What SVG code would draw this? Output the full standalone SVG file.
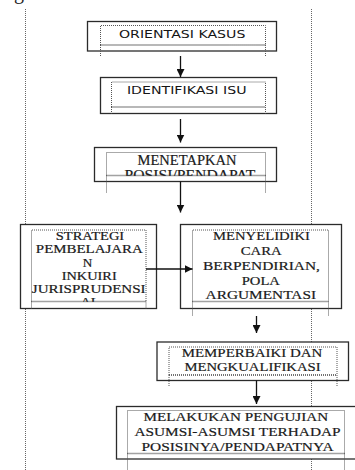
<svg xmlns="http://www.w3.org/2000/svg" width="355" height="470" viewBox="0 0 355 470">
<style>
.bg{fill:#ffffff}
.outer{fill:#ffffff;stroke:#2b2b2b;stroke-width:1.3}
.inner{fill:none;stroke:#555555;stroke-width:1;stroke-dasharray:1 1}
.ext{fill:none;stroke:#555555;stroke-width:1;stroke-dasharray:1 1}
.bot{stroke:#444444;stroke-width:1.6;stroke-dasharray:1 1}
.guide{stroke:#666666;stroke-width:1;stroke-dasharray:1 1;fill:none}
.sans{font-family:"DejaVu Sans","Liberation Sans",sans-serif;font-size:11px;fill:#151515;text-anchor:middle}
.serif{font-family:"Liberation Serif","Times New Roman",serif;fill:#1a1a1a;stroke:#1a1a1a;stroke-width:0.2;text-anchor:middle}
.conn{stroke:#111111;stroke-width:1.3;fill:none}
</style>
<defs>
<marker id="ah" markerUnits="userSpaceOnUse" markerWidth="8" markerHeight="8" refX="8" refY="4" orient="auto">
<path d="M0,0 L8,4 L0,8 z" fill="#111111"/>
</marker>
<clipPath id="c3"><rect x="100" y="150" width="175" height="26"/></clipPath>
<clipPath id="c4"><rect x="21" y="228" width="135" height="74"/></clipPath>
</defs>
<rect class="bg" x="0" y="0" width="355" height="470"/>
<text x="14" y="-1" style="font-family:'Liberation Serif',serif;font-size:20px;fill:#222">g</text>
<g id="guides">
<line class="guide" x1="25.5" y1="9" x2="25.5" y2="470"/>
<line class="guide" x1="311.5" y1="9" x2="311.5" y2="470"/>
</g>
<g id="orientasi-kasus">
<rect class="outer" x="87.5" y="21.5" width="189" height="29.5"/>
<path class="inner" d="M100.5,45 V25.5 H265.5 V45"/>
<line class="bot" x1="100.5" y1="45" x2="265.5" y2="45"/>
<path class="ext" d="M100.5,45 V56 M265.5,45 V56"/>
<text class="sans" transform="translate(182.2,37.5) scale(1.287,1)">ORIENTASI KASUS</text>
</g>
<g id="identifikasi-isu">
<rect class="outer" x="100.5" y="77.5" width="176" height="36"/>
<path class="inner" d="M111.5,107 V82 H265.5 V107"/>
<line class="bot" x1="111.5" y1="107" x2="265.5" y2="107"/>
<path class="ext" d="M111.5,107 V113.5 M265.5,107 V113.5"/>
<text class="sans" transform="translate(186.7,93.5) scale(1.288,1)">IDENTIFIKASI ISU</text>
</g>
<g id="menetapkan-posisi">
<rect class="outer" x="94.5" y="147.5" width="182" height="34"/>
<g clip-path="url(#c3)" style="font-size:15px">
<text class="serif" transform="translate(187,165) scale(0.968,1)">MENETAPKAN</text>
<text class="serif" transform="translate(190,179.5) scale(1.044,1)">POSISI/PENDAPAT</text>
</g>
<path class="inner" d="M106.5,175.5 V152.5 H265.5 V175.5"/>
<line class="bot" x1="106.5" y1="175.5" x2="265.5" y2="175.5"/>
<path class="ext" d="M106.5,175.5 V193 M265.5,175.5 V193"/>
</g>
<g id="strategi-pembelajaran">
<rect class="outer" x="20.5" y="224.5" width="136" height="84"/>
<g clip-path="url(#c4)" style="font-size:12px">
<text class="serif" transform="translate(90,240) scale(1.207,1)">STRATEGI</text>
<text class="serif" transform="translate(89.3,253.3) scale(1.244,1)">PEMBELAJARA</text>
<text class="serif" transform="translate(87.5,266.7) scale(1.1,1)">N</text>
<text class="serif" transform="translate(89.2,280) scale(1.196,1)">INKUIRI</text>
<text class="serif" transform="translate(88.7,292.7) scale(1.257,1)">JURISPRUDENSI</text>
<text class="serif" transform="translate(90,306.3) scale(1.2,1)">AL</text>
</g>
<path class="inner" d="M31.5,301.5 V230 H146 V301.5"/>
<line class="bot" x1="31.5" y1="301.5" x2="146" y2="301.5"/>
<path class="ext" d="M31.5,301.5 V308.5 M146,301.5 V308.5"/>
</g>
<g id="menyelidiki">
<rect class="outer" x="180.5" y="224.5" width="161" height="84"/>
<g style="font-size:13px">
<text class="serif" transform="translate(261.5,240) scale(1.129,1)">MENYELIDIKI</text>
<text class="serif" transform="translate(261.2,255) scale(1.136,1)">CARA</text>
<text class="serif" transform="translate(261.5,270) scale(1.187,1)">BERPENDIRIAN,</text>
<text class="serif" transform="translate(260.8,285) scale(1.129,1)">POLA</text>
<text class="serif" transform="translate(260.8,299.3) scale(1.181,1)">ARGUMENTASI</text>
</g>
<path class="inner" d="M192.5,301.5 V230 H328.5 V301.5"/>
<line class="bot" x1="192.5" y1="301.5" x2="328.5" y2="301.5"/>
<path class="ext" d="M192.5,301.5 V316 M328.5,301.5 V316"/>
</g>
<g id="memperbaiki">
<rect class="outer" x="157" y="342" width="191.5" height="38.5"/>
<g style="font-size:13px">
<text class="serif" transform="translate(252,356.7) scale(1.149,1)">MEMPERBAIKI DAN</text>
<text class="serif" transform="translate(252.5,370.7) scale(1.131,1)">MENGKUALIFIKASI</text>
</g>
<path class="inner" d="M169,375 V347 H337 V375"/>
<line class="bot" x1="169" y1="375" x2="337" y2="375"/>
<path class="ext" d="M169,375 V387 M337,375 V387"/>
</g>
<g id="pengujian-asumsi">
<rect class="outer" x="116.5" y="406.5" width="245" height="52.5"/>
<g style="font-size:13px">
<text class="serif" transform="translate(235.8,420.7) scale(1.167,1)">MELAKUKAN PENGUJIAN</text>
<text class="serif" transform="translate(237.5,436.2) scale(1.179,1)">ASUMSI-ASUMSI TERHADAP</text>
<text class="serif" transform="translate(237.5,450.7) scale(1.186,1)">POSISINYA/PENDAPATNYA</text>
</g>
<path class="inner" d="M127.5,453.5 V410.5 H344.5 V453.5"/>
<line class="bot" x1="127.5" y1="453.5" x2="344.5" y2="453.5"/>
<path class="ext" d="M127.5,453.5 V470 M344.5,453.5 V470"/>
</g>
<g id="connectors">
<line class="conn" x1="180.5" y1="56" x2="180.5" y2="77" marker-end="url(#ah)"/>
<line class="conn" x1="180.5" y1="119" x2="180.5" y2="142.5" marker-end="url(#ah)"/>
<line class="conn" x1="180.5" y1="181.5" x2="180.5" y2="212.5" marker-end="url(#ah)"/>
<line class="conn" x1="146" y1="269" x2="192.5" y2="269" marker-end="url(#ah)"/>
<line class="conn" x1="256.5" y1="316" x2="256.5" y2="333" marker-end="url(#ah)"/>
<line class="conn" x1="256.5" y1="380.5" x2="256.5" y2="404" marker-end="url(#ah)"/>
</g>
</svg>
